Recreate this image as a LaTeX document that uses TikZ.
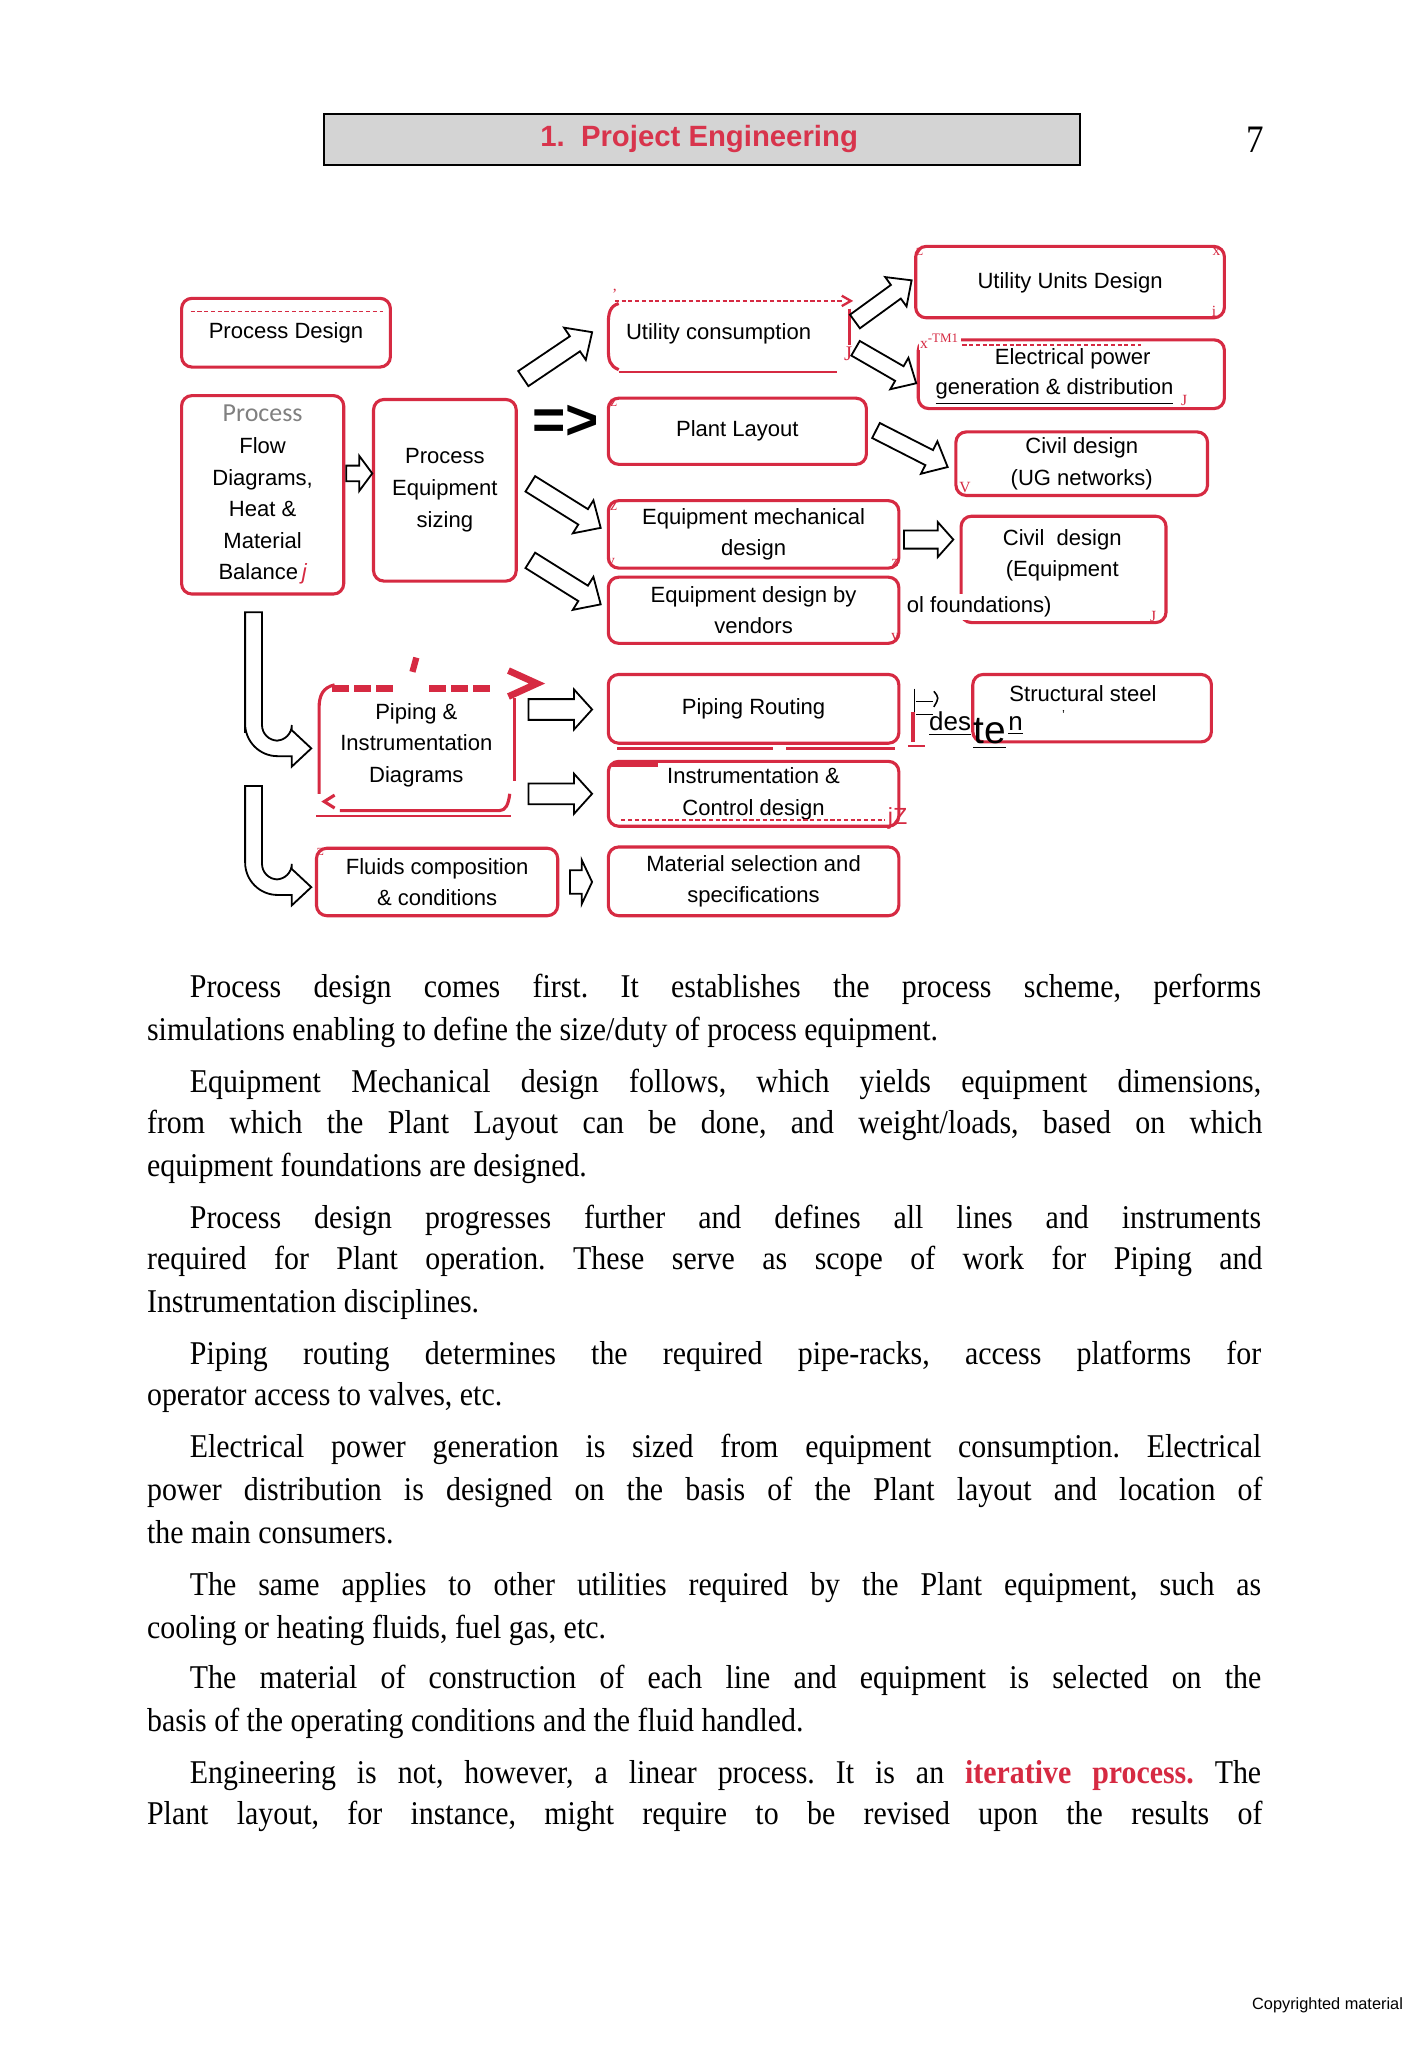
\documentclass[tikz,border=0pt]{standalone}
\usepackage{fontspec}
\setmainfont{Liberation Serif}
\setsansfont{Liberation Sans}
\newfontfamily\bodyfont[FakeStretch=0.9]{Liberation Serif}
\newfontfamily\carl{Carlito}
\definecolor{rd}{RGB}{214,42,66}
\definecolor{ttl}{RGB}{216,52,76}
\definecolor{hdr}{RGB}{212,212,212}
\newcommand\dfont{\sffamily\fontsize{8.5}{12.2}\selectfont}
\newcommand\bfnt{\bodyfont\fontsize{12.8}{16}\selectfont\frenchspacing}
\newcommand\blockarr[7]{%
  \begin{scope}[shift={(#1,#2)},rotate=#3]
    \draw[barrow] (-#4/2,-#5/2) -- (#4/2-#7,-#5/2) -- (#4/2-#7,-#6/2) -- (#4/2,0)
      -- (#4/2-#7,#6/2) -- (#4/2-#7,#5/2) -- (-#4/2,#5/2) -- cycle;
  \end{scope}}
\begin{document}
\begin{tikzpicture}[x=0.5pt,y=-0.5pt,
  box/.style={draw=rd, line width=1.2pt, rounded corners=4pt, fill=white, align=center, font=\dfont, inner sep=0pt},
  plain/.style={align=center, font=\dfont, inner sep=0pt},
  barrow/.style={draw=black, line width=0.7pt, fill=white, line join=miter},
  redln/.style={draw=rd, line width=1.2pt},
  finedash/.style={draw=rd, line width=0.6pt, dash pattern=on 1.6pt off 1pt},
  art/.style={text=rd, font=\fontsize{6}{6}\selectfont, inner sep=0pt},
  bl/.style={anchor=base west, inner sep=0pt, font=\bfnt}]
\useasboundingbox (0,0) rectangle (1100,1579);
\fill[white] (0,0) rectangle (1100,1579);

% header
\node[draw=black, line width=0.8pt, fill=hdr, minimum width=291.5pt, minimum height=19.5pt, inner sep=0pt] (hdr) at (541.5,107.5) {};
\node[text=ttl, font=\sffamily\bfseries\fontsize{11.3}{13}\selectfont, inner sep=0pt] (ttl) at (539,107) {1.\ \ Project Engineering};
\node[font=\bodyfont\fontsize{15}{15}\selectfont, inner sep=0pt] (pg) at (968,108) {7};

% boxes
\node[box, minimum width=80.5pt, minimum height=26.5pt] (pd) at (220.5,256.5) {Process Design};
\draw[finedash] (147,240) -- (295,240);
\node[box, minimum width=62.5pt, minimum height=76.5pt] (pfd) at (202.5,381.5)
  {{\carl\color{gray}\fontsize{10}{12.2}\selectfont Process}\\Flow\\Diagrams,\\Heat \&\\Material\\Balance\,{\color{rd}\itshape j}};
\node[box, minimum width=55pt, minimum height=70pt] (pes) at (343,378) {Process\\Equipment\\sizing};

% utility consumption (partial border)
\node[minimum width=93pt, minimum height=26.5pt, inner sep=0pt] (uc) at (562,258) {};
\node[plain] (uct) at (554,257) {Utility consumption};
\draw[redln] (477,234) .. controls (470,236) and (469,242) .. (469,250) -- (469,268) .. controls (469,278) and (470,282) .. (477,285);
\draw[finedash] (474,232) -- (650,232);
\draw[rd, line width=0.9pt] (649,228) -- (656,232) -- (649,236);
\draw[redln] (655,238) -- (655,266);
\draw[rd, line width=0.8pt] (477,287) -- (645,287);
\node[art] (a1) at (474,227) {'};
\node[art, font=\fontsize{8}{8}\selectfont] (a2) at (654,273) {J};

\node[box, minimum width=119pt, minimum height=27.5pt] (uud) at (825,217.5) {};
\node[plain] (uudt) at (825,218) {Utility Units Design};
\node[art] (a3) at (709,194) {z};
\node[art] (a4) at (938,194) {x};
\node[art] (a5) at (936,240) {i};

\node[box, minimum width=118pt, minimum height=26.5pt] (ep) at (826,288.5) {};
\node[plain] (ep1) at (827,277) {Electrical power};
\node[plain] (ep2) at (813,302) {\underline{generation \& distribution}};
\node[art, anchor=west, fill=white, inner sep=0.5pt] (a6) at (708,263) {x\textsuperscript{-TM1}};
\draw[finedash] (742,266) -- (880,266);
\node[art] (a7) at (913,309) {J};

\node[box, minimum width=99.5pt, minimum height=25.5pt] (pl) at (568.5,332.5) {Plant Layout};
\node[art] (a8) at (473,311) {z};
\node[box, minimum width=97pt, minimum height=24.5pt] (cug) at (834,357.5) {Civil design\\(UG networks)};
\node[art] (a9) at (744,376) {V};
\node[box, minimum width=112pt, minimum height=26pt] (emd) at (581,412) {Equipment mechanical\\design};
\node[art] (a10) at (473,391) {z};
\node[art] (a11) at (471,433) {v};
\node[art] (a12) at (690,434) {z};
\node[box, minimum width=112pt, minimum height=25.5pt] (edv) at (581,470.5) {Equipment design by\\vendors};
\node[art] (a13) at (690,492) {y};
\node[box, minimum width=79pt, minimum height=41pt] (ceq) at (820,439) {};
\node[plain] (ceqt) at (819,428) {Civil\ \ design\\(Equipment};
\node[plain, fill=white, inner sep=1pt] (olf) at (755,468) {ol foundations)};
\node[art] (a14) at (889,475) {J};

% P&ID box (partial border)
\node[plain, minimum width=77pt, minimum height=53.5pt] (pid) at (321,574.5) {Piping \&\\Instrumentation\\Diagrams};
\draw[redln] (258,528) .. controls (249,530) and (246,536) .. (246,546) -- (246,612);
\draw[redln] (397,538) -- (397,602);
\draw[redln] (262,625) -- (385,625) .. controls (390,625) and (392,620) .. (393,612);
\draw[rd, line width=0.7pt] (244,629) -- (394,629);
\draw[rd, line width=1.2pt] (258,613) -- (250,618) -- (258,623);
\draw[rd, line width=2.6pt, dash pattern=on 6.5pt off 2pt] (256,531) -- (303,531);
\draw[rd, line width=2.6pt, dash pattern=on 6.5pt off 2pt] (331,531) -- (378,531);
\draw[rd, line width=2.4pt] (321,507) -- (318,518);
\draw[rd, line width=2.6pt] (392,517) -- (414,527) -- (392,537);

\node[box, minimum width=112pt, minimum height=26.5pt] (pr) at (581,546.5) {Piping Routing};
\draw[rd, line width=1.1pt] (476,577) -- (596,577) (606,577) -- (690,577);
\node[box, minimum width=112pt, minimum height=25pt] (ic) at (581,612) {Instrumentation \&\\Control design};
\draw[rd, line width=1.6pt] (472,590) -- (507,590);
\draw[finedash] (479,632) -- (682,632);
\node[art, font=\sffamily\fontsize{9}{9}\selectfont] (a15) at (692,631) {jZ};

\node[box, minimum width=92pt, minimum height=26pt] (ss) at (842,546) {};
\node[plain] (sst) at (835,535) {Structural steel};
\node[plain, font=\sffamily\fontsize{5}{5}\selectfont] (sst2) at (820,551) {'};
% artifact left of structural steel
\draw[black, line width=0.6pt] (705,531) -- (705,556) (706,541) -- (719,541) (706,551) -- (719,551);
\draw[black, line width=0.6pt] (720,533) .. controls (724,538) .. (720,545);
\draw[rd, line width=1.6pt] (704,549) -- (704,572);
\draw[rd, line width=0.6pt] (700,575) -- (713,575);
\node[plain, anchor=base west, font=\sffamily\fontsize{10}{10}\selectfont] (des) at (716,563) {\underline{des}};
\node[plain, anchor=base west, font=\sffamily\fontsize{15}{15}\selectfont] (te) at (750,573) {\underline{te}};
\node[plain, anchor=base west, font=\sffamily\fontsize{10}{10}\selectfont] (nn) at (777,563) {\underline{n}};

\node[box, minimum width=93pt, minimum height=26pt] (fc) at (337,680) {Fluids composition\\\& conditions};
\node[art] (a16) at (247,657) {z};
\node[box, minimum width=112pt, minimum height=26.5pt] (ms) at (581,679.5) {Material selection and\\specifications};

% "=>"
\node[font=\sffamily\bfseries\fontsize{22}{22}\selectfont, inner sep=0pt] (imp) at (436,326) {=>};

% block arrows: cx, cy, angle, length, shaft, head width, head length
\blockarr{277}{365}{0}{20}{12}{27}{10}
\blockarr{430}{274}{34}{64}{14}{30}{16}
\blockarr{436}{390}{-32}{64}{14}{30}{16}
\blockarr{436}{449}{-32}{64}{14}{30}{16}
\blockarr{681}{232}{36}{54}{13}{28}{15}
\blockarr{683}{282}{-30}{54}{13}{28}{15}
\blockarr{703}{346}{-27}{62}{13}{28}{16}
\blockarr{716}{416}{0}{38}{14}{27}{12}
\blockarr{432}{547}{0}{49}{16}{31}{14}
\blockarr{432}{612}{0}{49}{16}{31}{14}
\blockarr{448}{680}{0}{17}{18}{34}{8}

% L-shaped arrows
\draw[barrow] (189,472) -- (202,472) [rounded corners=6pt] -- (202,571) -- (225,571) [sharp corners] -- (225,563) -- (240,577) -- (225,591) -- (225,583) [rounded corners=12.5pt] -- (189,583) -- (189,540) [sharp corners] -- cycle;
\draw[barrow] (189,606) -- (202,606) [rounded corners=6pt] -- (202,678) -- (225,678) [sharp corners] -- (225,670) -- (240,684) -- (225,698) -- (225,690) [rounded corners=12.5pt] -- (189,690) -- (189,640) [sharp corners] -- cycle;

% body text
\node[bl] (l1) at (146,769) {\makebox[413pt][s]{Process design comes first. It establishes the process scheme, performs}};
\node[bl] (l2) at (113,802) {simulations enabling to define the size/duty of process equipment.};
\node[bl] (l3) at (146,842) {\makebox[413pt][s]{Equipment Mechanical design follows, which yields equipment dimensions,}};
\node[bl] (l4) at (113,874) {\makebox[430pt][s]{from which the Plant Layout can be done, and weight/loads, based on which}};
\node[bl] (l5) at (113,907) {equipment foundations are designed.};
\node[bl] (l6) at (146,947) {\makebox[413pt][s]{Process design progresses further and defines all lines and instruments}};
\node[bl] (l7) at (113,979) {\makebox[430pt][s]{required for Plant operation. These serve as scope of work for Piping and}};
\node[bl] (l8) at (113,1012) {Instrumentation disciplines.};
\node[bl] (l9) at (146,1052) {\makebox[413pt][s]{Piping routing determines the required pipe-racks, access platforms for}};
\node[bl] (l10) at (113,1084) {operator access to valves, etc.};
\node[bl] (l11) at (146,1124) {\makebox[413pt][s]{Electrical power generation is sized from equipment consumption. Electrical}};
\node[bl] (l12) at (113,1157) {\makebox[430pt][s]{power distribution is designed on the basis of the Plant layout and location of}};
\node[bl] (l13) at (113,1190) {the main consumers.};
\node[bl] (l14) at (146,1230) {\makebox[413pt][s]{The same applies to other utilities required by the Plant equipment, such as}};
\node[bl] (l15) at (113,1263) {cooling or heating fluids, fuel gas, etc.};
\node[bl] (l16) at (146,1302) {\makebox[413pt][s]{The material of construction of each line and equipment is selected on the}};
\node[bl] (l17) at (113,1335) {basis of the operating conditions and the fluid handled.};
\node[bl] (l18) at (146,1375) {\makebox[413pt][s]{Engineering is not, however, a linear process. It is an {\color{rd}\bfseries iterative} {\color{rd}\bfseries process.} The}};
\node[bl] (l19) at (113,1407) {\makebox[430pt][s]{Plant layout, for instance, might require to be revised upon the results of}};

\node[anchor=base west, inner sep=0pt, font=\sffamily\fontsize{6.3}{7}\selectfont] (copy) at (965,1549) {Copyrighted material};
\end{tikzpicture}
\end{document}
